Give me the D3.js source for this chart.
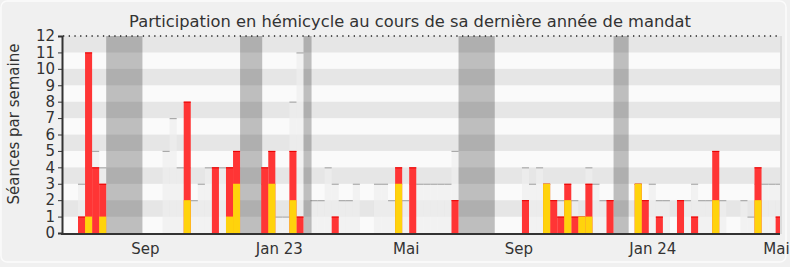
<!DOCTYPE html>
<html>
<head>
<meta charset="utf-8">
<script src="https://cdn.jsdelivr.net/npm/d3@7/dist/d3.min.js"></script>
<style>
  body { margin: 0; background: #f0f0f0; }
  svg { display: block; font-family: "DejaVu Sans", Verdana, sans-serif; }
</style>
</head>
<body>
<svg id="chart" width="790" height="267"></svg>
<script>
// Weekly activity over the last year of the mandate (week index 0..99)
const presence = [
  1, 11, 4, 3, 0, 0, 0, 0, 0, 0,
  0, 0, 0, 0, 0, 8, 0, 0, 0, 4,
  0, 4, 5, 0, 0, 0, 4, 5, 0, 0,
  5, 1, 0, 0, 0, 0, 1, 0, 0, 0,
  0, 0, 0, 0, 0, 4, 0, 4, 0, 0,
  0, 0, 0, 2, 0, 0, 0, 0, 0, 0,
  0, 0, 0, 2, 0, 0, 3, 2, 1, 3,
  1, 1, 3, 0, 0, 2, 0, 0, 0, 3,
  2, 0, 1, 0, 0, 2, 0, 1, 0, 0,
  5, 0, 0, 0, 0, 0, 4, 0, 0, 1
];
const interventions = [
  0, 1, 0, 1, 0, 0, 0, 0, 0, 0,
  0, 0, 0, 0, 0, 2, 0, 0, 0, 0,
  0, 1, 3, 0, 0, 0, 0, 3, 0, 0,
  2, 0, 0, 0, 0, 0, 0, 0, 0, 0,
  0, 0, 0, 0, 0, 3, 0, 0, 0, 0,
  0, 0, 0, 0, 0, 0, 0, 0, 0, 0,
  0, 0, 0, 0, 0, 0, 3, 0, 0, 2,
  0, 1, 1, 0, 0, 0, 0, 0, 0, 3,
  0, 0, 0, 0, 0, 0, 0, 0, 0, 0,
  2, 0, 0, 0, 0, 0, 2, 0, 0, 0
];
// Median weekly presence of all deputies
const median = [
  3, 4, 5, 4, 0, 0, 0, 0, 0, 0,
  0, 0, 5, 7, 4, 4, 2, 3, 4, 4,
  4, 4, 4, 0, 0, 0, 3, 3, 1, 1,
  8, 11, 0, 2, 2, 4, 3, 2, 2, 3,
  0, 0, 3, 3, 2, 3, 2, 3, 3, 3,
  3, 3, 3, 5, 0, 0, 0, 0, 0, 0,
  0, 0, 0, 4, 3, 4, 3, 2, 2, 2,
  2, 1, 4, 3, 2, 2, 0, 0, 0, 3,
  2, 3, 2, 2, 0, 2, 2, 3, 2, 2,
  2, 2, 0, 0, 2, 1, 3, 3, 3, 3
];
// Parliamentary recess periods (first week, number of weeks)
const vacationStart = [4, 23, 32, 54, 76];
const vacationWeeks = [5, 3, 1, 5, 2];
// Month labels on the time axis
const tickWeeks = [9, 28, 46, 62, 81, 99];
const tickLabels = ["Sep", "Jan 23", "Mai", "Sep", "Jan 24", "Mai"];
const yMax = 12;

(function draw() {
  const svg = d3.select("#chart");
  const W = 790, H = 267;
  const mLeft = 63, mRight = 780, mTop = 36, mBottom = 233;

  // frame
  svg.append("rect").attr("x", 1).attr("y", 1).attr("width", W - 5).attr("height", H - 6)
    .attr("rx", 6).attr("fill", "#f0f0f0").attr("stroke", "#fbfbfb").attr("stroke-width", 1.5);

  const x = d3.scaleLinear().domain([-2.13, 99.62]).range([mLeft, mRight]);
  const y = d3.scaleLinear().domain([0, yMax]).range([mBottom, mTop]);

  svg.append("defs").append("clipPath").attr("id", "plot")
    .append("rect").attr("x", mLeft).attr("y", mTop)
    .attr("width", mRight - mLeft).attr("height", mBottom - mTop);

  const plot = svg.append("g").attr("clip-path", "url(#plot)");

  // horizontal bands
  plot.selectAll("rect.band").data(d3.range(yMax)).join("rect")
    .attr("class", "band")
    .attr("x", mLeft).attr("width", mRight - mLeft)
    .attr("y", d => y(d + 1)).attr("height", d => y(d) - y(d + 1))
    .attr("fill", d => d % 2 ? "#e6e6e6" : "#fafafa");

  const weeks = d3.range(presence.length);
  const bw = d => x(d + 1) - x(d);

  // median of all deputies
  const medWeeks = weeks.filter(i => median[i] > 0);
  plot.selectAll("rect.med").data(medWeeks).join("rect")
    .attr("class", "med")
    .attr("x", i => x(i)).attr("width", bw)
    .attr("y", i => y(median[i])).attr("height", i => y(0) - y(median[i]))
    .attr("fill", "#eeeeee").attr("fill-opacity", 0.7);
  plot.selectAll("line.med").data(medWeeks).join("line")
    .attr("class", "med")
    .attr("x1", i => x(i)).attr("x2", i => x(i + 1))
    .attr("y1", i => y(median[i]) + 0.5).attr("y2", i => y(median[i]) + 0.5)
    .attr("stroke", "#aaaaaa").attr("stroke-width", 1.2);

  // recess periods
  plot.selectAll("rect.vac").data(vacationStart).join("rect")
    .attr("class", "vac")
    .attr("x", d => x(d))
    .attr("width", (d, k) => x(d + vacationWeeks[k]) - x(d) + 1)
    .attr("y", mTop).attr("height", mBottom - mTop)
    .attr("fill", "#000").attr("fill-opacity", 0.24);

  // presence
  const presWeeks = weeks.filter(i => presence[i] > 0);
  plot.selectAll("rect.pres").data(presWeeks).join("rect")
    .attr("class", "pres")
    .attr("x", i => x(i)).attr("width", bw)
    .attr("y", i => y(presence[i])).attr("height", i => y(0) - y(presence[i]))
    .attr("fill", "#ff3535");
  plot.selectAll("line.pres").data(presWeeks).join("line")
    .attr("class", "pres")
    .attr("x1", i => x(i)).attr("x2", i => x(i + 1))
    .attr("y1", i => y(presence[i]) + 0.5).attr("y2", i => y(presence[i]) + 0.5)
    .attr("stroke", "#e80000").attr("stroke-width", 1);

  // interventions
  plot.selectAll("rect.int").data(weeks.filter(i => interventions[i] > 0)).join("rect")
    .attr("class", "int")
    .attr("x", i => x(i)).attr("width", bw)
    .attr("y", i => y(interventions[i])).attr("height", i => y(0) - y(interventions[i]))
    .attr("fill", "#ffd30c");

  // dotted ceiling
  svg.append("line").attr("x1", mLeft).attr("x2", mRight).attr("y1", y(yMax)).attr("y2", y(yMax))
    .attr("stroke", "#222").attr("stroke-width", 1.3).attr("stroke-dasharray", "1.3,4.4");

  // right border
  svg.append("line").attr("x1", mRight + 1).attr("x2", mRight + 1).attr("y1", mTop).attr("y2", mBottom + 1)
    .attr("stroke", "#d4d4d4").attr("stroke-width", 1.5);

  // y axis
  const yAxis = svg.append("g").attr("transform", `translate(${mLeft - 1},0)`)
    .call(d3.axisLeft(y).tickValues(d3.range(0, yMax + 1)).tickSize(4).tickPadding(3));
  yAxis.select(".domain").attr("stroke", "#333").attr("stroke-width", 2);
  yAxis.selectAll(".tick line").attr("stroke", "#333");
  yAxis.selectAll(".tick text").attr("font-size", 15).attr("fill", "#333")
    .attr("font-family", "DejaVu Sans, Verdana, sans-serif");

  // x axis
  const xAxis = svg.append("g").attr("transform", `translate(0,${mBottom})`)
    .call(d3.axisBottom(x).tickValues(tickWeeks.map(w => w + 0.5))
      .tickFormat((d, k) => tickLabels[k]).tickSize(0).tickPadding(10));
  xAxis.select(".domain").attr("stroke", "#333").attr("stroke-width", 2)
    .attr("d", `M${mLeft - 2},1H${mRight}`);
  xAxis.selectAll(".tick text").attr("font-size", 15).attr("fill", "#333")
    .attr("font-family", "DejaVu Sans, Verdana, sans-serif");
  // keep the last month label inside the window
  xAxis.selectAll(".tick text").filter((d, k) => k === tickLabels.length - 1)
    .attr("text-anchor", "end").attr("dx", 10);

  // titles
  svg.append("text").attr("x", 410).attr("y", 27).attr("text-anchor", "middle")
    .attr("font-size", 16.3).attr("fill", "#333")
    .text("Participation en hémicycle au cours de sa dernière année de mandat");
  svg.append("text").attr("transform", "translate(19,124) rotate(-90)").attr("text-anchor", "middle")
    .attr("font-size", 15).attr("fill", "#333")
    .text("Séances par semaine");
})();
</script>
</body>
</html>
